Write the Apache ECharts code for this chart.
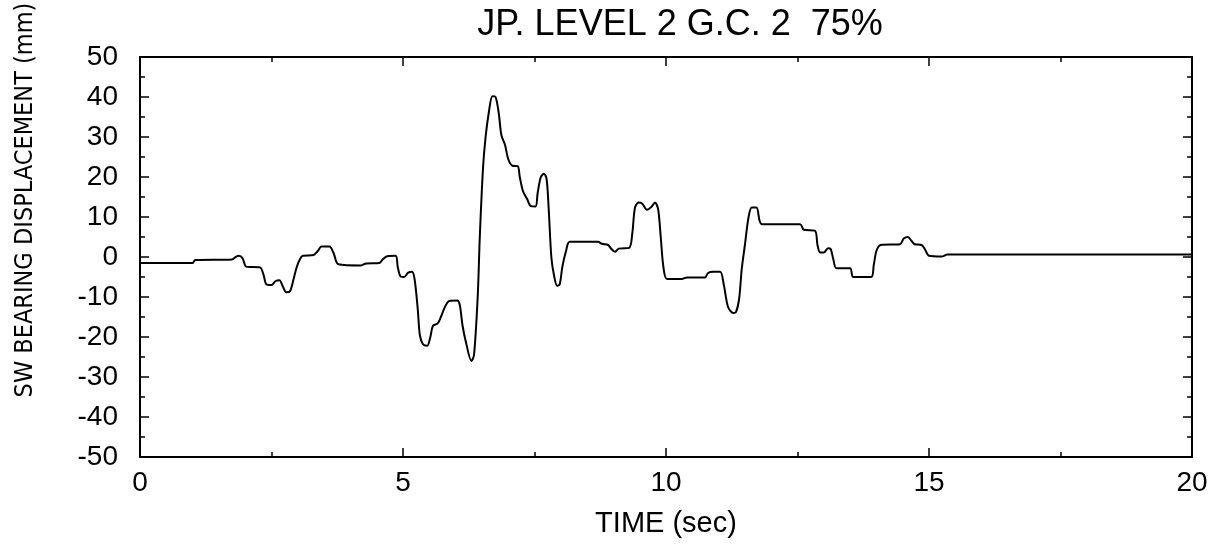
<!DOCTYPE html>
<html>
<head>
<meta charset="utf-8">
<script src="https://cdn.jsdelivr.net/npm/echarts@6/dist/echarts.min.js"></script>
<style>
html,body{margin:0;padding:0;background:#fff;}
#c{width:1220px;height:546px;}
</style>
</head>
<body>
<div id="c"></div>
<script>
const titleText = "JP. LEVEL 2 G.C. 2  75%";
const xName = "TIME (sec)";
const yName = "SW BEARING DISPLACEMENT (mm)";
const time = [0,1.0,1.05,1.75,1.82,1.88,1.95,2.02,2.28,2.35,2.4,2.5,2.58,2.65,2.72,2.78,2.85,2.92,2.98,3.05,3.1,3.3,3.38,3.45,3.6,3.68,3.77,4.2,4.3,4.55,4.62,4.7,4.86,4.9,4.95,5.02,5.1,5.17,5.22,5.28,5.32,5.38,5.46,5.52,5.57,5.66,5.72,5.80,5.88,6.03,6.08,6.13,6.2,6.3,6.35,6.42,6.46,6.52,6.57,6.63,6.7,6.76,6.82,6.87,6.94,7.0,7.08,7.18,7.22,7.28,7.36,7.43,7.52,7.56,7.62,7.68,7.73,7.77,7.82,7.87,7.93,7.98,8.03,8.1,8.17,8.71,8.78,8.9,8.95,9.03,9.1,9.3,9.36,9.41,9.48,9.55,9.64,9.72,9.79,9.85,9.9,9.95,10.02,10.3,10.4,10.74,10.8,10.9,11.03,11.1,11.18,11.28,11.33,11.39,11.44,11.5,11.57,11.63,11.72,11.78,11.83,12.55,12.62,12.83,12.88,12.93,13.0,13.08,13.13,13.18,13.24,13.5,13.56,13.9,13.95,14.0,14.08,14.45,14.52,14.6,14.67,14.73,14.86,14.92,15.0,15.24,15.35,20];
const disp = [-1.5,-1.5,-0.75,-0.6,0.0,0.3,-0.3,-2.4,-2.6,-4.5,-6.8,-7.0,-6.0,-5.8,-7.5,-8.8,-8.6,-5.5,-2.5,-0.3,0.3,0.5,1.5,2.6,2.6,1.0,-1.8,-2.1,-1.6,-1.5,-0.5,0.2,0.3,-2.5,-4.8,-5.0,-3.9,-3.7,-5.5,-13,-19.5,-21.8,-22.2,-20,-17.2,-16.6,-15,-12.4,-11.0,-10.9,-12,-17,-21.5,-26,-24.5,-10,5,22,30,36,40.2,40,36,30.5,28,24.5,22.8,22.7,20,16.5,14.5,12.7,12.6,16,20,20.8,19.5,12,0,-4.5,-7.2,-6.8,-2.4,1.5,3.8,3.8,3.3,3.0,2.2,1.3,2.1,2.3,6,12.3,13.6,13.3,11.8,12.5,13.6,12,5,-2.4,-5.5,-5.5,-5.1,-5.1,-4,-3.7,-3.7,-7,-12.5,-14.0,-13.8,-10.5,-3,3,10,12.4,12.4,9,8.2,8.2,6.8,6.6,3,1.1,1.1,2.2,2.0,-0.5,-2.8,-2.8,-5.0,-5.0,-2,1.5,3.0,3.2,4.6,5.0,4.0,3.2,3.0,2.0,0.3,0.1,0.6,0.6];

const font = "'Liberation Sans', Arial, sans-serif";
const narrow = "'Liberation Sans Narrow', 'Arial Narrow', 'DejaVu Sans Condensed', 'Liberation Sans', sans-serif";
const chart = echarts.init(document.getElementById('c'), null, {renderer:'canvas'});
const axisLine = {show:true, onZero:false, lineStyle:{color:'#000', width:2}};
const mkTick = () => ({show:true, inside:true, length:9, lineStyle:{color:'#000', width:1.5}});
const mkMinor = () => ({show:true, splitNumber:2, length:5, lineStyle:{color:'#000', width:1.5}});
chart.setOption({
  animation:false,
  backgroundColor:'#fff',
  title:{text:titleText, left:675, textAlign:'center', top:2,
    textStyle:{fontFamily:font, fontSize:36, fontWeight:'normal', color:'#000'}},
  grid:{left:140, top:57, width:1052, height:400},
  xAxis:[
    {type:'value', min:0, max:20, interval:5, position:'bottom',
     name:xName, nameLocation:'middle', nameGap:52,
     nameTextStyle:{fontFamily:font, fontSize:29, color:'#000'},
     axisLine:axisLine, axisTick:mkTick(), minorTick:mkMinor(),
     axisLabel:{fontFamily:font, fontSize:28, color:'#000', margin:12},
     splitLine:{show:false}},
    {type:'value', min:0, max:20, interval:5, position:'top',
     axisLine:axisLine, axisTick:mkTick(), minorTick:mkMinor(),
     axisLabel:{show:false}, splitLine:{show:false}}
  ],
  yAxis:[
    {type:'value', min:-50, max:50, interval:10, position:'left',
     axisLine:axisLine, axisTick:mkTick(), minorTick:mkMinor(),
     axisLabel:{fontFamily:font, fontSize:28, color:'#000', margin:22},
     splitLine:{show:false}},
    {type:'value', min:-50, max:50, interval:10, position:'right',
     axisLine:axisLine, axisTick:mkTick(), minorTick:mkMinor(),
     axisLabel:{show:false}, splitLine:{show:false}}
  ],
  graphic:[{
    type:'text', x:25, y:200, rotation:Math.PI/2,
    style:{text:yName, fontFamily:narrow, fontSize:25, fill:'#000', align:'center', verticalAlign:'middle'}
  }],
  series:[{
    type:'line', xAxisIndex:0, yAxisIndex:0,
    data: time.map((t,i)=>[t, disp[i]]),
    showSymbol:false, smooth:0.3,
    lineStyle:{color:'#000', width:2}
  }]
});
</script>
</body>
</html>
